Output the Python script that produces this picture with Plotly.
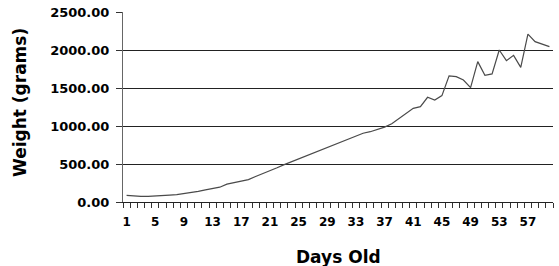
import plotly.graph_objects as go

days = list(range(1, 61))
weight = [87, 76, 73, 73, 76, 85, 90, 96, 108, 120,
          140, 160, 180, 195, 235, 255, 270, 295, 335, 370,
          410, 450, 492, 530, 565, 600, 640, 680, 720, 755,
          795, 830, 870, 905, 925, 950, 985, 1030, 1100, 1170,
          1233, 1254, 1378, 1342, 1400, 1660, 1650, 1605, 1505, 1847,
          1667, 1685, 2000, 1860, 1930, 1772, 2210, 2110, 2080, 2045]
x_tick_days = days[::4]
y_ticks = [0, 500, 1000, 1500, 2000, 2500]
y_tick_labels = [f"{v:.2f}" for v in y_ticks]

FONT = "DejaVu Sans"
boundaries = [d - 0.5 for d in days] + [days[-1] + 0.5]

fig = go.Figure()
fig.add_trace(go.Scatter(x=days, y=weight, mode="lines",
                         line=dict(color="#4a4a4a", width=1.2),
                         hoverinfo="skip", showlegend=False))

fig.update_layout(
    width=559, height=266,
    margin=dict(l=123, r=6, t=12, b=64, autoexpand=False),
    paper_bgcolor="white", plot_bgcolor="white",
    font=dict(family=FONT, color="black"),
    xaxis=dict(
        range=[0.5, 60.5], tickmode="array", tickvals=boundaries,
        ticktext=["" for _ in boundaries], ticks="outside", ticklen=5,
        tickcolor="#333", tickwidth=1, showgrid=False,
        zeroline=False, showline=True, linecolor="#222", linewidth=1,
    ),
    xaxis2=dict(
        range=[0.5, 60.5], overlaying="x", side="bottom", anchor="y",
        tickmode="array", tickvals=x_tick_days,
        ticktext=[str(d) for d in x_tick_days], ticks="", showgrid=False,
        zeroline=False, showline=False,
        tickfont=dict(family=FONT, size=12, weight="bold"),
        ticklabelstandoff=11,
    ),
    yaxis=dict(
        range=[0, 2500], tickmode="array", tickvals=y_ticks,
        ticktext=y_tick_labels, ticks="outside", ticklen=6, tickcolor="#333",
        showgrid=True, gridcolor="#222", gridwidth=1, zeroline=False,
        showline=True, linecolor="#666", linewidth=1,
        tickfont=dict(family=FONT, size=13, weight="bold"),
        ticklabelstandoff=4,
    ),
    annotations=[
        dict(text="Weight (grams)", xref="paper", yref="paper",
             x=(20 - 123) / 430, y=(202 - 103) / 190, textangle=-90,
             xanchor="center", yanchor="middle", showarrow=False,
             font=dict(family=FONT, size=17, weight="bold", color="black")),
        dict(text="Days Old", xref="paper", yref="paper",
             x=0.5, y=(202 - 257) / 190,
             xanchor="center", yanchor="middle", showarrow=False,
             font=dict(family=FONT, size=17, weight="bold", color="black")),
    ],
)
# invisible helper trace so the label axis is drawn
fig.add_trace(go.Scatter(x=[days[0]], y=[weight[0]], xaxis="x2", mode="markers",
                         marker=dict(opacity=0), hoverinfo="skip", showlegend=False))

fig.write_html("out.html", config={"displayModeBar": False},
               post_script="document.body.style.margin='0';document.body.style.overflow='hidden';")
